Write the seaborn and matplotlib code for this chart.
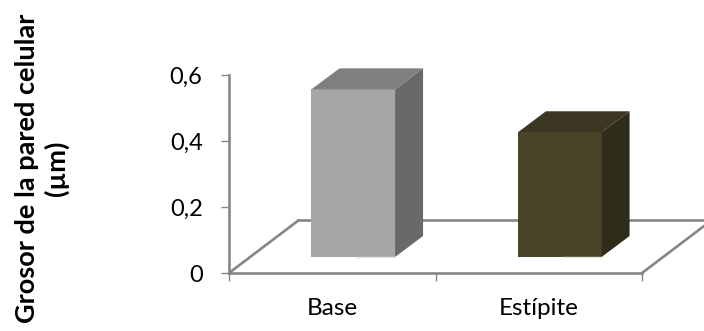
import pandas as pd
import matplotlib
matplotlib.use('Agg')
import matplotlib.pyplot as plt
import seaborn as sns
from matplotlib.lines import Line2D
from matplotlib.patches import Polygon
from matplotlib.transforms import Affine2D

categories = ['Base', 'Estípite']
values = [0.508, 0.378]
y_ticks = [0, 0.2, 0.4, 0.6]
y_labels = ['0', '0,2', '0,4', '0,6']
front_colors = ['#a6a6a6', '#4a442a']
side_colors = ['#696969', '#2f2c1c']
top_colors = ['#7f7f7f', '#3b3722']

sns.set_theme(style="ticks")
plt.rcParams['font.family'] = ['Lato', 'DejaVu Sans']

W, H = 704, 331
fig = plt.figure(figsize=(W / 100, H / 100), dpi=100, facecolor='white')
ax = fig.add_axes([229 / W, (H - 273) / H, 413 / W, 198 / H])

df = pd.DataFrame({'part': categories, 'value': values})
sns.barplot(data=df, x='part', y='value', hue='part', palette=front_colors,
            legend=False, width=0.405, saturation=1, linewidth=0, ax=ax, zorder=3)
ax.set_xlim(-0.5, 1.5)
ax.set_ylim(0, 0.6)
fig.canvas.draw()

grey = '#868686'
for s in ['top', 'right']:
    ax.spines[s].set_visible(False)
for s in ['left', 'bottom']:
    ax.spines[s].set_color(grey)
    ax.spines[s].set_linewidth(1.9)

ax.set_yticks(y_ticks, y_labels)
ax.set_xticks([-0.5, 0.5, 1.5], ['', '', ''])
ax.set_xticks([0, 1], categories, minor=True)
ax.tick_params(axis='y', length=6, width=1, color=grey, pad=13, labelsize=17, labelcolor='black')
ax.tick_params(axis='x', which='major', length=6, width=1, color=grey)
ax.tick_params(axis='x', which='minor', length=0, pad=18, labelsize=17.5, labelcolor='black')
ax.set_xlabel('')
ax.set_ylabel('')


def add_px(artist, z):
    # pixel coordinates, allowed outside the axes
    ax.add_artist(artist)
    artist.set_zorder(z)
    artist.set_clip_on(False)


# floor of the 3d box, in pixels from the axis ends
fx, fy = 70, 53
x0, y0 = ax.transData.transform((-0.5, 0))
x1, _ = ax.transData.transform((1.5, 0))
for xs, ys in [([x0, x0 + fx], [y0, y0 + fy]),
               ([x0 + fx, x1 + fx], [y0 + fy, y0 + fy]),
               ([x1, x1 + fx], [y0, y0 + fy])]:
    add_px(Line2D(xs, ys, transform=None, color=grey, lw=1.9), 1)

# bars stand in the middle of the floor, side and top faces follow the patch
shift = Affine2D().translate(21, 16)
dx, dy = 28, 21
for i, p in enumerate(ax.patches[:len(values)]):
    p.set_transform(ax.transData + shift)
    p.set_clip_on(False)
    (l, b), (r, t) = (ax.transData + shift).transform(p.get_bbox().get_points())
    add_px(Polygon([(r, b), (r + dx, b + dy), (r + dx, t + dy), (r, t)],
                   transform=None, color=side_colors[i], lw=0), 4)
    add_px(Polygon([(l, t), (l + dx, t + dy), (r + dx, t + dy), (r, t)],
                   transform=None, color=top_colors[i], lw=0), 4)
    add_px(Line2D([r - 39, r], [b, b], transform=None, color='#e6e6e0', lw=1), 4)

fig.text(42 / W, (H - 168) / H, 'Grosor de la pared celular\n(µm)', rotation=90,
         ha='center', va='center', multialignment='center', fontsize=19.5,
         fontweight='bold', color='black', linespacing=1.2)

fig.savefig('out.png', dpi=100)
